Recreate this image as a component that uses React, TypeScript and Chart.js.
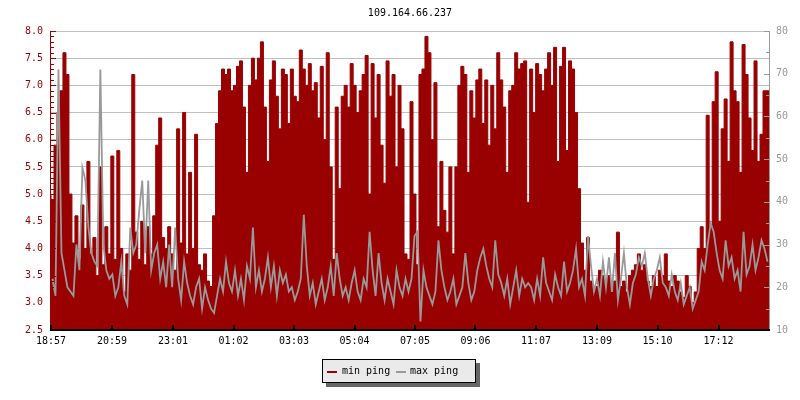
import React, { useEffect, useRef } from "react";
import { Chart, registerables } from "chart.js";

Chart.register(...registerables);

const TITLE = "109.164.66.237";
const TIME_LABELS = ["18:57", "20:59", "23:01", "01:02", "03:03", "05:04", "07:05", "09:06", "11:07", "13:09", "15:10", "17:12"];
// minutes after 18:57 for each time label
const TICK_MINUTES = [0, 122, 244, 365, 486, 607, 728, 849, 970, 1092, 1213, 1335];
const SPAN_MINUTES = 1436;

const LEFT_TICKS = [2.5, 3.0, 3.5, 4.0, 4.5, 5.0, 5.5, 6.0, 6.5, 7.0, 7.5, 8.0];
const RIGHT_TICKS = [10, 20, 30, 40, 50, 60, 70, 80];

// min ping (left axis), one value per ~6 minutes
const MIN_PING = [
  5.0, 4.9, 5.9, 6.5, 6.9, 7.6, 7.2, 5.0, 4.1, 4.6, 3.8, 4.8, 4.0, 5.6, 3.9, 4.2, 3.5, 5.5, 3.7, 4.4,
  3.9, 5.7, 3.8, 5.8, 4.0, 3.2, 3.9, 3.6, 7.2, 4.3, 3.8, 4.5, 3.7, 4.4, 3.9, 4.6, 5.9, 6.4, 4.2, 4.0,
  4.4, 3.9, 3.6, 6.2, 4.1, 6.5, 3.9, 5.4, 4.0, 6.1, 3.7, 3.6, 3.9, 3.4, 3.3, 4.6, 6.3, 6.9, 7.3, 7.2,
  7.3, 6.9, 7.0, 7.35, 7.45, 6.6, 5.4, 7.0, 7.5, 7.1, 7.5, 7.8, 6.6, 5.6, 7.1, 7.45, 6.8, 6.2, 7.3, 7.2,
  6.3, 7.3, 6.8, 6.7, 7.65, 7.3, 7.0, 7.4, 6.9, 7.05, 6.4, 7.35, 6.0, 7.6, 5.5, 3.8, 6.6, 5.1, 6.8, 7.0,
  6.6, 7.4, 7.0, 6.5, 6.9, 7.2, 7.55, 5.0, 7.4, 6.4, 7.2, 5.9, 5.2, 7.45, 6.8, 7.2, 5.5, 7.0, 6.2, 3.9,
  3.8, 6.7, 5.0, 3.7, 7.2, 7.3, 7.9, 7.6, 6.0, 7.05, 4.4, 5.6, 4.7, 4.3, 5.5, 3.9, 5.5, 7.0, 7.35, 7.2,
  5.4, 6.9, 6.4, 7.1, 7.3, 6.3, 7.1, 5.9, 7.0, 6.2, 7.6, 7.1, 6.6, 5.4, 6.9, 7.0, 7.6, 7.3, 7.4, 7.45,
  4.85, 7.3, 6.5, 7.4, 7.2, 6.9, 7.3, 7.6, 7.0, 7.7, 5.6, 7.35, 7.7, 5.8, 7.45, 7.3, 6.5, 5.1, 4.1, 3.6,
  4.2, 3.4, 3.2, 3.3, 3.6, 3.5, 3.4, 3.5, 3.2, 3.4, 4.3, 3.3, 3.4, 3.2, 3.5, 3.6, 3.7, 3.9, 3.6, 3.7,
  3.4, 3.3, 3.5, 3.3, 3.6, 3.5, 3.9, 3.4, 3.3, 3.5, 3.4, 3.2, 3.1, 3.5, 3.3, 3.0, 3.2, 4.0, 4.4, 4.0,
  6.45, 4.4, 6.7, 7.25, 4.5, 6.2, 6.75, 5.6, 7.8, 6.9, 6.7, 5.4, 7.75, 7.2, 6.4, 5.8, 7.45, 5.6, 6.1, 6.9,
];

// max ping (right axis), same sampling
const MAX_PING = [
  22, 18, 71, 28, 24, 20, 19, 18, 30, 24, 48, 45, 34, 28, 26, 25, 71, 30, 24, 22,
  23, 18, 20, 26, 18, 16, 34, 28, 30, 38, 45, 28, 45, 24, 28, 30, 22, 26, 20, 30,
  20, 34, 22, 17, 26, 21, 18, 16, 20, 22, 15, 20, 17, 15, 14, 18, 22, 19, 26, 21,
  19, 24, 18, 22, 17, 25, 22, 34, 20, 24, 19, 22, 27, 20, 25, 18, 24, 21, 23, 19,
  20, 17, 19, 22, 37, 25, 18, 21, 16, 19, 22, 17, 20, 25, 18, 28, 22, 18, 20, 17,
  21, 24, 19, 17, 22, 20, 33, 24, 18, 28, 21, 17, 22, 19, 16, 24, 20, 18, 22, 19,
  22, 32, 33, 12, 24, 20, 18, 16, 19, 31, 24, 20, 17, 19, 22, 16, 18, 20, 28, 21,
  17, 19, 24, 27, 29, 25, 22, 20, 31, 23, 21, 18, 22, 16, 20, 24, 18, 22, 20, 21,
  20, 17, 22, 18, 27, 21, 19, 17, 23, 20, 18, 26, 19, 21, 24, 29, 20, 22, 18, 32,
  25, 19, 22, 18, 26, 20, 27, 19, 28, 17, 22, 28, 20, 16, 21, 23, 27, 25, 28, 22,
  18, 22, 24, 27, 21, 20, 18, 23, 19, 17, 21, 16, 18, 20, 15, 17, 19, 26, 24, 30,
  35, 33, 28, 24, 22, 31, 25, 27, 22, 24, 19, 33, 23, 25, 30, 24, 27, 31, 29, 26,
];

const LEGEND_LABELS = ["min ping", "max ping"];
const RED = "#990000";
const GRAY = "#999999";
const FONT = '10px "DejaVu Sans Mono", monospace';

function toPoints(arr: number[], extend: boolean) {
  const step = SPAN_MINUTES / arr.length;
  const pts = arr.map((v, i) => ({ x: i * step + (extend ? 0 : step / 2), y: v }));
  if (extend) pts.push({ x: SPAN_MINUTES, y: arr[arr.length - 1] });
  return pts;
}

const decorPlugin = {
  id: "decor",
  afterDraw(chart: any) {
    const ctx = chart.ctx as CanvasRenderingContext2D;
    const { left, right, top, bottom } = chart.chartArea;
    const ys = chart.scales.y;
    const y1 = chart.scales.y1;
    const xs = chart.scales.x;
    ctx.save();

    // title
    ctx.font = FONT;
    ctx.fillStyle = "#000";
    ctx.textAlign = "center";
    ctx.textBaseline = "middle";
    ctx.fillText(TITLE, (left + right) / 2, 13);

    // left axis
    ctx.fillStyle = RED;
    ctx.fillRect(left - 1, top, 1, bottom - top);
    for (let k = 25; k <= 80; k++) {
      const v = k / 10;
      const y = Math.round(ys.getPixelForValue(v));
      const len = k % 5 === 0 ? 5 : 3;
      ctx.fillRect(left, y, len, 1);
    }

    // right axis
    ctx.fillStyle = GRAY;
    ctx.fillRect(right, top, 1, bottom - top);
    for (let v = 10; v <= 80; v += 5) {
      const y = Math.round(y1.getPixelForValue(v));
      const len = v % 10 === 0 ? 5 : 3;
      ctx.fillRect(right - len, y, len, 1);
    }

    // bottom axis
    ctx.fillStyle = "#000";
    ctx.fillRect(left - 1, bottom - 1, right - left + 2, 2);
    TICK_MINUTES.forEach((m) => {
      const x = Math.round(xs.getPixelForValue(m));
      ctx.fillRect(x - 1, bottom - 5, 2, 5);
    });

    // legend
    const bx = 322, by = 359, bw = 154, bh = 24;
    ctx.fillStyle = "#666666";
    ctx.fillRect(bx + 4, by + 4, bw, bh);
    ctx.fillStyle = "#eaeaea";
    ctx.fillRect(bx, by, bw, bh);
    ctx.strokeStyle = "#000";
    ctx.lineWidth = 1;
    ctx.strokeRect(bx + 0.5, by + 0.5, bw - 1, bh - 1);
    ctx.font = FONT;
    ctx.textAlign = "left";
    ctx.textBaseline = "middle";
    ctx.fillStyle = RED;
    ctx.fillRect(327, 371, 10, 2);
    ctx.fillStyle = "#000";
    ctx.fillText(LEGEND_LABELS[0], 342, 371);
    ctx.fillStyle = GRAY;
    ctx.fillRect(396, 371, 10, 2);
    ctx.fillStyle = "#000";
    ctx.fillText(LEGEND_LABELS[1], 410, 371);

    ctx.restore();
  },
};

export default function App() {
  const ref = useRef<HTMLCanvasElement | null>(null);

  useEffect(() => {
    if (!ref.current) return;
    const fontSpec = { family: '"DejaVu Sans Mono", monospace', size: 10 };
    const chart = new Chart(ref.current, {
      type: "line",
      data: {
        datasets: [
          {
            label: LEGEND_LABELS[1],
            data: toPoints(MAX_PING, false),
            yAxisID: "y1",
            borderColor: GRAY,
            borderWidth: 1.8,
            pointRadius: 0,
            tension: 0,
            fill: false,
            order: 1,
          },
          {
            label: LEGEND_LABELS[0],
            data: toPoints(MIN_PING, true),
            yAxisID: "y",
            borderColor: RED,
            backgroundColor: RED,
            borderWidth: 1,
            pointRadius: 0,
            stepped: "after",
            fill: "start",
            order: 2,
          },
        ],
      } as any,
      options: {
        responsive: false,
        animation: false,
        parsing: false as any,
        layout: { padding: { top: 31, left: 0, right: 0, bottom: 0 } },
        plugins: {
          legend: { display: false },
          tooltip: { enabled: false },
          title: { display: false },
        },
        scales: {
          x: {
            type: "linear",
            min: 0,
            max: SPAN_MINUTES,
            grid: { display: false, drawTicks: false },
            border: { display: false },
            afterBuildTicks: (scale: any) => {
              scale.ticks = TICK_MINUTES.map((v) => ({ value: v }));
            },
            afterFit: (scale: any) => {
              scale.height = 70;
            },
            ticks: {
              autoSkip: false,
              maxRotation: 0,
              minRotation: 0,
              padding: 5,
              color: "#000",
              font: fontSpec,
              callback: (_v: any, i: number) => TIME_LABELS[i],
            },
          },
          y: {
            type: "linear",
            position: "left",
            min: LEFT_TICKS[0],
            max: LEFT_TICKS[LEFT_TICKS.length - 1],
            grid: { color: "#c0c0c0", drawTicks: false, lineWidth: 1 },
            border: { display: false },
            afterBuildTicks: (scale: any) => {
              scale.ticks = LEFT_TICKS.map((v) => ({ value: v }));
            },
            afterFit: (scale: any) => {
              scale.width = 51;
            },
            ticks: {
              padding: 8,
              color: RED,
              font: fontSpec,
              callback: (v: any) => Number(v).toFixed(1),
            },
          },
          y1: {
            type: "linear",
            position: "right",
            min: RIGHT_TICKS[0],
            max: RIGHT_TICKS[RIGHT_TICKS.length - 1],
            grid: { display: false, drawTicks: false },
            border: { display: false },
            afterBuildTicks: (scale: any) => {
              scale.ticks = RIGHT_TICKS.map((v) => ({ value: v }));
            },
            afterFit: (scale: any) => {
              scale.width = 31;
            },
            ticks: {
              padding: 7,
              color: GRAY,
              font: fontSpec,
              callback: (v: any) => String(v),
            },
          },
        },
      } as any,
      plugins: [decorPlugin],
    });
    return () => chart.destroy();
  }, []);

  return (
    <div style={{ position: "fixed", left: 0, top: 0, width: 800, height: 400, background: "#fff" }}>
      <canvas ref={ref} width={800} height={400} style={{ display: "block", width: 800, height: 400 }} />
    </div>
  );
}
